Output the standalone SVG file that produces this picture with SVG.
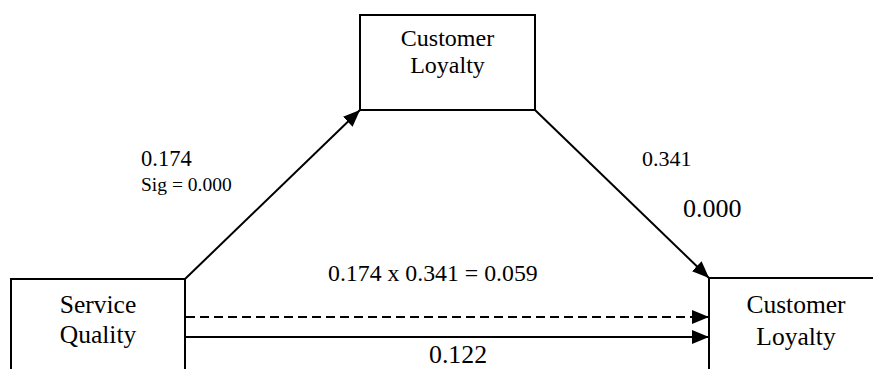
<svg xmlns="http://www.w3.org/2000/svg" width="873" height="369" viewBox="0 0 873 369">
<defs>
<style>
.box{fill:#fff;stroke:#000;stroke-width:2}
.t{font-family:'Liberation Serif','Times New Roman',serif;fill:#000}
.ln{stroke:#000;stroke-width:2;fill:none}
</style>
<marker id="ah" markerUnits="userSpaceOnUse" markerWidth="18" markerHeight="14" refX="17" refY="7" orient="auto">
<path d="M0,0 L17,7 L0,14 Z" fill="#000"/>
</marker>
</defs>
<rect width="873" height="369" fill="#fff"/>
<g id="node-top">
<rect class="box" x="360" y="15" width="175" height="95"/>
<text class="t" x="447.5" y="46" font-size="24" text-anchor="middle">Customer</text>
<text class="t" x="447.5" y="73" font-size="24" text-anchor="middle">Loyalty</text>
</g>
<g id="node-left">
<rect class="box" x="11" y="279" width="174" height="100"/>
<text class="t" x="98" y="313" font-size="25.5" text-anchor="middle">Service</text>
<text class="t" x="98" y="343" font-size="25.5" text-anchor="middle">Quality</text>
</g>
<g id="node-right">
<rect class="box" x="709" y="278" width="180" height="100"/>
<text class="t" x="796" y="313" font-size="25.5" text-anchor="middle">Customer</text>
<text class="t" x="796" y="345" font-size="25.5" text-anchor="middle">Loyalty</text>
</g>
<g id="connectors">
<line class="ln" x1="185" y1="279" x2="360" y2="110" marker-end="url(#ah)"/>
<line class="ln" x1="535" y1="110" x2="709" y2="278" marker-end="url(#ah)"/>
<line class="ln" x1="186" y1="317" x2="709" y2="317" stroke-dasharray="9 5" marker-end="url(#ah)"/>
<line class="ln" x1="186" y1="337" x2="709" y2="337" marker-end="url(#ah)"/>
</g>
<g id="labels">
<text class="t" x="141" y="165.5" font-size="22.5">0.174</text>
<text class="t" x="141" y="190.5" font-size="19.5">Sig = 0.000</text>
<text class="t" x="642" y="165.5" font-size="22">0.341</text>
<text class="t" x="683" y="216.5" font-size="26">0.000</text>
<text class="t" x="328" y="281" font-size="23.8">0.174 x 0.341 = 0.059</text>
<text class="t" x="429" y="362.5" font-size="25.8">0.122</text>
</g>
</svg>
